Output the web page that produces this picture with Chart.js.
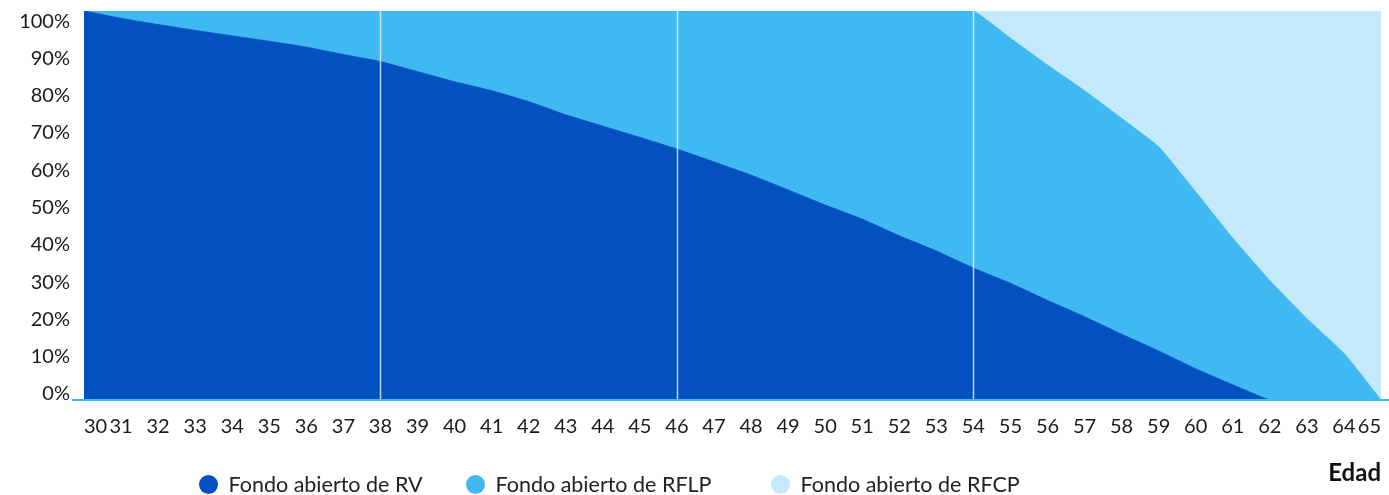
<!DOCTYPE html>
<html>
<head>
<meta charset="utf-8">
<script src="https://cdn.jsdelivr.net/npm/chart.js@4/dist/chart.umd.min.js"></script>
<style>
  html, body { margin: 0; padding: 0; background: #ffffff; }
  #wrap { position: relative; width: 1389px; height: 495px; overflow: hidden; }
  #legend { position: absolute; left: 0; top: 0; width: 1389px; height: 495px; pointer-events: none;
            font-family: Lato, "Noto Sans", sans-serif; font-size: 21.5px; color: #222; }
  .item { position: absolute; top: 473px; height: 22px; display: flex; align-items: center; white-space: nowrap; }
  .dot { width: 19px; height: 19px; border-radius: 50%; margin-right: 11px; flex: none; }
</style>
</head>
<body>
<div id="wrap">
  <canvas id="chart" width="1389" height="495"></canvas>
  <div id="legend"></div>
</div>
<script>
// ---- data ----
const ages = [30,31,32,33,34,35,36,37,38,39,40,41,42,43,44,45,46,47,48,49,50,51,52,53,54,55,56,57,58,59,60,61,62,63,64,65];
const seriesNames = ['Fondo abierto de RV', 'Fondo abierto de RFLP', 'Fondo abierto de RFCP'];
const rvValues   = [100,98.1,96.5,95.0,93.6,92.2,90.7,88.8,87.0,84.4,81.8,79.5,76.7,73.3,70.4,67.5,64.5,61.2,57.8,54.0,50.1,46.5,42.2,38.3,33.9,30.0,25.6,21.4,16.9,12.6,8.0,3.9,0,0,0,0];
const rflpValues = [0,1.9,3.5,5.0,6.4,7.8,9.3,11.2,13.0,15.6,18.2,20.5,23.3,26.7,29.6,32.5,35.5,38.8,42.2,46.0,49.9,53.5,57.8,61.7,66.1,63.0,60.5,58.1,55.5,52.5,45.5,37.7,30.7,20.9,12.0,0];
const rfcpValues = [0,0,0,0,0,0,0,0,0,0,0,0,0,0,0,0,0,0,0,0,0,0,0,0,0,7.0,13.9,20.5,27.6,34.9,46.5,58.4,69.3,79.1,88.0,100];
const yTickValues = [0,10,20,30,40,50,60,70,80,90,100];
const milestoneAges = [38, 46, 54];
const xTitle = 'Edad';

// ---- styles ----
const colors = ['#0350C0', '#40B9F2', '#C4E9FA'];
const FONT = 'Lato, "Noto Sans", sans-serif';

const seriesValues = [rvValues, rflpValues, rfcpValues];
const datasets = seriesNames.map((name, i) => ({
  label: name,
  data: ages.map((a, j) => ({ x: a, y: seriesValues[i][j] })),
  backgroundColor: colors[i],
  borderColor: colors[i],
  borderWidth: 1,
  pointRadius: 0,
  pointHoverRadius: 0,
  fill: i === 0 ? 'origin' : '-1',
  tension: 0.12,
  yAxisID: 'y'
}));

const overlayPlugin = {
  id: 'overlay',
  afterDatasetsDraw(chart) {
    const { ctx, chartArea, scales } = chart;
    ctx.save();
    ctx.strokeStyle = 'rgba(235,245,255,0.8)';
    ctx.lineWidth = 1.5;
    milestoneAges.forEach(a => {
      const x = Math.round(scales.x.getPixelForValue(a)) + 0.5;
      ctx.beginPath();
      ctx.moveTo(x, chartArea.top);
      ctx.lineTo(x, chartArea.bottom);
      ctx.stroke();
    });
    ctx.strokeStyle = colors[1];
    ctx.lineWidth = 2;
    ctx.beginPath();
    ctx.moveTo(chartArea.left - 12, chartArea.bottom);
    ctx.lineTo(chart.width, chartArea.bottom);
    ctx.stroke();
    ctx.restore();
  }
};

new Chart(document.getElementById('chart'), {
  type: 'line',
  data: { datasets },
  plugins: [overlayPlugin],
  options: {
    responsive: false,
    animation: false,
    layout: { padding: { top: 11, right: 8, left: 0, bottom: 0 } },
    plugins: { legend: { display: false }, tooltip: { enabled: false } },
    scales: {
      x: {
        type: 'linear',
        min: ages[0],
        max: ages[ages.length - 1],
        grid: { display: false, drawTicks: false },
        border: { display: false },
        ticks: {
          stepSize: 1,
          autoSkip: false,
          maxRotation: 0,
          align: 'inner',
          padding: 15,
          color: '#1a1a1a',
          font: { family: FONT, size: 20 },
          callback: v => String(v)
        },
        title: {
          display: true,
          text: xTitle,
          align: 'end',
          color: '#111',
          font: { family: FONT, size: 24, weight: 'bold' },
          padding: { top: 0, bottom: 7 }
        },
        afterFit(scale) { scale.height = 95; scale.paddingLeft = 0; scale.paddingRight = 0; }
      },
      y: {
        type: 'linear',
        display: false,
        stacked: true,
        min: 0,
        max: 100
      },
      yl: {
        type: 'linear',
        position: 'left',
        min: -1.6,
        max: 102.7,
        grid: { display: false, drawTicks: false },
        border: { display: false },
        afterBuildTicks(scale) { scale.ticks = yTickValues.map(v => ({ value: v })); },
        ticks: {
          padding: 14,
          color: '#1a1a1a',
          font: { family: FONT, size: 20 },
          callback: v => v + '%'
        },
        afterFit(scale) { scale.width = 84; scale.paddingTop = 0; scale.paddingBottom = 0; }
      }
    }
  }
});

// HTML legend
const legendCenters = [208, 475, 780];
const legend = document.getElementById('legend');
seriesNames.forEach((name, i) => {
  const item = document.createElement('div');
  item.className = 'item';
  item.style.left = (legendCenters[i] - 9.5) + 'px';
  const dot = document.createElement('span');
  dot.className = 'dot';
  dot.style.background = colors[i];
  const txt = document.createElement('span');
  txt.textContent = name;
  item.appendChild(dot);
  item.appendChild(txt);
  legend.appendChild(item);
});
</script>
</body>
</html>
